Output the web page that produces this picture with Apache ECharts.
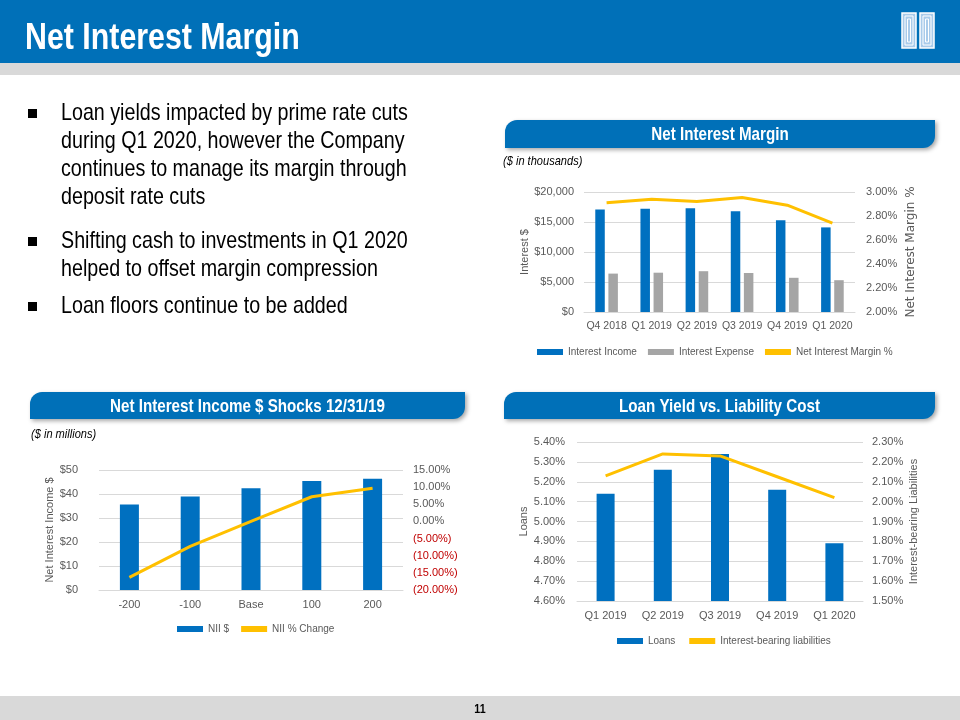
<!DOCTYPE html>
<html><head><meta charset="utf-8">
<script src="https://cdn.jsdelivr.net/npm/echarts@6.0.0/dist/echarts.min.js"></script>
<style>html,body{margin:0;padding:0;background:#fff}#c{width:960px;height:720px}</style>
</head><body><div id="c"></div>
<script>
// ---- data ----
const quartersA = ['Q4 2018','Q1 2019','Q2 2019','Q3 2019','Q4 2019','Q1 2020'];
const interestIncome = [17100, 17200, 17300, 16800, 15300, 14100];
const interestExpense = [6400, 6550, 6800, 6500, 5700, 5300];
const netInterestMargin = [2.91, 2.94, 2.92, 2.955, 2.89, 2.74];

const shockScenarios = ['-200','-100','Base','100','200'];
const niiDollars = [35.6, 39.0, 42.4, 45.4, 46.4];
const niiPctChange = [-16.3, -7.3, 0.0, 7.2, 9.7];

const quartersC = ['Q1 2019','Q2 2019','Q3 2019','Q4 2019','Q1 2020'];
const loanYield = [5.14, 5.26, 5.34, 5.16, 4.89];
const liabilityCost = [2.13, 2.24, 2.23, 2.125, 2.02];

const slideTitle = 'Net Interest Margin';
const bullets = [
  ['Loan yields impacted by prime rate cuts','during Q1 2020, however the Company','continues to manage its margin through','deposit rate cuts'],
  ['Shifting cash to investments in Q1 2020','helped to offset margin compression'],
  ['Loan floors continue to be added']
];
const pageNumber = '11';

// ---- font: Arial Narrow look (narrow face if installed, else squeezed Liberation Sans) ----
function hasFont(f){
  const c = document.createElement('canvas').getContext('2d');
  const s = 'abcdefghijklmnopqrstuvwxyz0123456789';
  c.font = '40px monospace'; const a = c.measureText(s).width;
  c.font = "40px '" + f + "', monospace"; const b = c.measureText(s).width;
  return Math.abs(a - b) > 0.5;
}
let NARROW = null;
['Liberation Sans Narrow','Arial Narrow'].forEach(function(f){ if(!NARROW && hasFont(f)) NARROW = f; });
const SCALE = NARROW ? 1 : 0.82;
const FACE = NARROW ? "'" + NARROW + "'" : "'Liberation Sans', Arial, sans-serif";
function fs(n, k){ return NARROW ? n : Math.round(n * (k || 0.88) * 2) / 2; }

// ---- styling ----
const BLUE = '#0070C0';
const HEAD_BLUE = '#0070B8';
const GREY_BAR = '#A5A5A5';
const YELLOW = '#FFC000';
const TXT = '#595959';
const GRID = '#D9D9D9';

const chart = echarts.init(document.getElementById('c'), null, {renderer:'canvas'});

const g = [];
function txt(x, y, t, font, fill, align){
  g.push({type:'text', x:x, y:y, scaleX:SCALE,
    style:{text:t, fill:fill, font:font + ' ' + FACE, align:align || 'left', verticalAlign:'middle'}});
}
g.push({type:'rect', shape:{x:0,y:0,width:960,height:63}, style:{fill:HEAD_BLUE}});
g.push({type:'rect', shape:{x:0,y:63,width:960,height:12}, style:{fill:'#D9D9D9'}});
txt(25, 39, slideTitle, 'bold 37px', '#fff');
[902, 920].forEach(function(px){
  g.push({type:'rect', shape:{x:px,y:13,width:14,height:35}, style:{fill:'#A9CBEA', stroke:'#fff', lineWidth:1.5}});
  g.push({type:'rect', shape:{x:px+3,y:16,width:8,height:29}, style:{fill:'none', stroke:'#fff', lineWidth:1}});
  g.push({type:'rect', shape:{x:px+5.5,y:19,width:3,height:23}, style:{fill:'none', stroke:'#fff', lineWidth:1}});
});
const bulletStarts = [113, 241, 306];
bullets.forEach(function(lines, i){
  const y0 = bulletStarts[i];
  g.push({type:'rect', shape:{x:28,y:y0-4,width:9,height:9}, style:{fill:'#000'}});
  lines.forEach(function(t, j){ txt(61, y0 + j*28, t, '24px', '#000'); });
});
function pill(x, y, w, h, label){
  g.push({type:'rect', shape:{x:x,y:y,width:w,height:h,r:[12,0,12,0]},
    style:{fill:HEAD_BLUE, shadowBlur:4, shadowOffsetX:2, shadowOffsetY:2, shadowColor:'rgba(0,0,0,0.35)'}});
  txt(x + w/2, y + h/2 + 1, label, 'bold 18.5px', '#fff', 'center');
}
pill(505, 120, 430, 28, 'Net Interest Margin');
pill(30, 392, 435, 27, 'Net Interest Income $ Shocks 12/31/19');
pill(504, 392, 431, 27, 'Loan Yield vs. Liability Cost');
txt(503, 161, '($ in thousands)', 'italic 13.5px', '#000');
txt(31, 434, '($ in millions)', 'italic 13.5px', '#000');
g.push({type:'rect', shape:{x:0,y:696,width:960,height:24}, style:{fill:'#D9D9D9'}});
txt(480, 709, pageNumber, 'bold 13px', '#000', 'center');

const lbl = {color:TXT, fontFamily:FACE, fontSize:fs(12, 0.92)};
function xAx(gi, data, size){
  return {type:'category', gridIndex:gi, data:data, axisTick:{show:false},
    axisLine:{lineStyle:{color:GRID}},
    axisLabel:Object.assign({}, lbl, {margin:9, interval:0, fontSize:size || lbl.fontSize})};
}
function nameStyle(){ return {color:TXT, fontFamily:FACE, fontSize:fs(12, 0.92)}; }
const legText = {color:TXT, fontFamily:FACE, fontSize:fs(11.5)};

const option = {
  animation:false,
  textStyle:{fontFamily:FACE},
  graphic:{elements:g},
  grid:[
    {left:584, right:105, top:192, bottom:408},
    {left:99, right:557, top:470, bottom:130},
    {left:577, right:97, top:442, bottom:119}
  ],
  xAxis:[ xAx(0, quartersA, fs(12, 0.86)), xAx(1, shockScenarios), xAx(2, quartersC) ],
  yAxis:[
    {type:'value', gridIndex:0, min:0, max:20000, interval:5000,
      axisLabel:Object.assign({margin:10, formatter:function(v){return '$' + v.toLocaleString('en-US');}}, lbl),
      splitLine:{lineStyle:{color:GRID}}, axisLine:{show:false}, axisTick:{show:false},
      name:'Interest $', nameLocation:'middle', nameRotate:90, nameGap:51, nameTextStyle:nameStyle()},
    {type:'value', gridIndex:0, position:'right', min:2, max:3, interval:0.2,
      axisLabel:Object.assign({margin:11, formatter:function(v){return v.toFixed(2) + '%';}}, lbl),
      splitLine:{show:false}, axisLine:{show:false}, axisTick:{show:false},
      name:'Net Interest Margin %', nameLocation:'middle', nameRotate:90, nameGap:50,
      nameTextStyle:{color:TXT, fontFamily:'DejaVu Sans', fontSize:12}},
    {type:'value', gridIndex:1, min:0, max:50, interval:10,
      axisLabel:Object.assign({margin:21, formatter:function(v){return '$' + v;}}, lbl),
      splitLine:{lineStyle:{color:GRID}}, axisLine:{show:false}, axisTick:{show:false},
      name:'Net Interest Income $', nameLocation:'middle', nameRotate:90, nameGap:33, nameTextStyle:nameStyle()},
    {type:'value', gridIndex:1, position:'right', min:-20, max:15, interval:5,
      axisLabel:{margin:10, fontFamily:FACE, fontSize:fs(12, 0.92),
        color:function(v){ return Number(v) < 0 ? '#C00000' : TXT; },
        formatter:function(v){ return v < 0 ? '(' + Math.abs(v).toFixed(2) + '%)' : v.toFixed(2) + '%'; }},
      splitLine:{show:false}, axisLine:{show:false}, axisTick:{show:false}},
    {type:'value', gridIndex:2, min:4.6, max:5.4, interval:0.1,
      axisLabel:Object.assign({margin:12, formatter:function(v){return v.toFixed(2) + '%';}}, lbl),
      splitLine:{lineStyle:{color:GRID}}, axisLine:{show:false}, axisTick:{show:false},
      name:'Loans', nameLocation:'middle', nameRotate:90, nameGap:44, nameTextStyle:nameStyle()},
    {type:'value', gridIndex:2, position:'right', min:1.5, max:2.3, interval:0.1,
      axisLabel:Object.assign({margin:9, formatter:function(v){return v.toFixed(2) + '%';}}, lbl),
      splitLine:{show:false}, axisLine:{show:false}, axisTick:{show:false},
      name:'Interest-bearing Liabilities', nameLocation:'middle', nameRotate:90, nameGap:45, nameTextStyle:nameStyle()}
  ],
  legend:[
    {left:537, top:347, padding:0, itemWidth:26, itemHeight:6, itemGap:11, textStyle:legText,
      data:[{name:'Interest Income',icon:'rect'},{name:'Interest Expense',icon:'rect'},{name:'Net Interest Margin %',icon:'rect'}]},
    {left:177, top:624, padding:0, itemWidth:26, itemHeight:6, itemGap:12, textStyle:legText,
      data:[{name:'NII $',icon:'rect'},{name:'NII % Change',icon:'rect'}]},
    {left:617, top:636, padding:0, itemWidth:26, itemHeight:6, itemGap:14, textStyle:legText,
      data:[{name:'Loans',icon:'rect'},{name:'Interest-bearing liabilities',icon:'rect'}]}
  ],
  series:[
    {name:'Interest Income', type:'bar', xAxisIndex:0, yAxisIndex:0, data:interestIncome, barWidth:9.5, barGap:'38%', itemStyle:{color:BLUE}},
    {name:'Interest Expense', type:'bar', xAxisIndex:0, yAxisIndex:0, data:interestExpense, barWidth:9.5, barGap:'38%', itemStyle:{color:GREY_BAR}},
    {name:'Net Interest Margin %', type:'line', xAxisIndex:0, yAxisIndex:1, data:netInterestMargin, symbol:'none', lineStyle:{color:YELLOW, width:3}, itemStyle:{color:YELLOW}},
    {name:'NII $', type:'bar', xAxisIndex:1, yAxisIndex:2, data:niiDollars, barWidth:19, itemStyle:{color:BLUE}},
    {name:'NII % Change', type:'line', xAxisIndex:1, yAxisIndex:3, data:niiPctChange, symbol:'none', lineStyle:{color:YELLOW, width:3}, itemStyle:{color:YELLOW}},
    {name:'Loans', type:'bar', xAxisIndex:2, yAxisIndex:4, data:loanYield, barWidth:18, itemStyle:{color:BLUE}},
    {name:'Interest-bearing liabilities', type:'line', xAxisIndex:2, yAxisIndex:5, data:liabilityCost, symbol:'none', lineStyle:{color:YELLOW, width:3}, itemStyle:{color:YELLOW}}
  ]
};
chart.setOption(option);
</script></body></html>
